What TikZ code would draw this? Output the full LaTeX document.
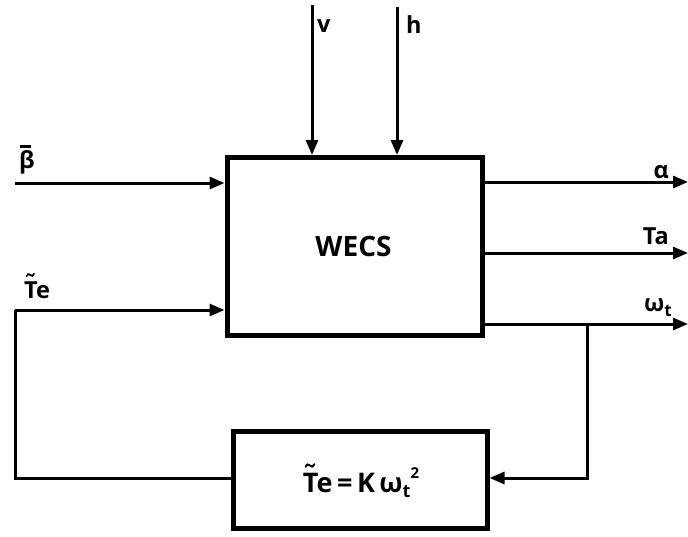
\documentclass[tikz,border=0pt]{standalone}
\usepackage{amsmath}
\usepackage{fontspec}
\setmainfont{Open Sans}
\usetikzlibrary{arrows.meta}
\newcommand{\barbeta}{\leavevmode\rlap{\hspace{0.04em}\raisebox{0.86em}{\rule{0.46em}{0.1em}}}β}
\newcommand{\tildeT}{\leavevmode\rlap{\tikz[overlay,baseline=0pt,x=1em,y=1em]
  \draw[line width=0.075em,line cap=round] (0.1,0.93) .. controls (0.15,1.04) and (0.2,1.04) .. (0.26,0.98)
  .. controls (0.32,0.92) and (0.37,0.92) .. (0.42,1.03);}T}
\begin{document}
\begin{tikzpicture}[x=1pt,y=-1pt,
  sig/.style={line width=3pt,-{Triangle[length=15pt,width=12pt]}},
  wire/.style={line width=3pt},
  lbl/.style={font=\bfseries\fontsize{23.5}{23.5}\selectfont,inner sep=0pt}]
\useasboundingbox (0,0) rectangle (688,536);
% main block
\node[draw,line width=5pt,minimum width=255pt,minimum height=178pt,inner sep=0pt,anchor=north west] (wecs) at (224.5,155) {};
\node[font=\fontsize{28}{28}\selectfont\bfseries,inner sep=0pt] (wecstext) at (353.5,246) {WECS};
% feedback block
\node[draw,line width=4.5pt,minimum width=254pt,minimum height=97pt,inner sep=0pt,anchor=north west] (fb) at (231,429) {};
\node[font=\fontsize{27}{27}\selectfont\bfseries,inner sep=0pt,anchor=base] (fbtext) at (361,492)
  {\tildeT e\,=\,K\,ω\raisebox{-0.22em}{\fontsize{18}{18}\selectfont t}\raisebox{0.5em}{\fontsize{15}{15}\selectfont 2}};
% coordinates
\coordinate (bin) at (15,183);
\coordinate (tin) at (15,310);
\coordinate (fbl) at (15,478);
\coordinate (vin) at (312,5);
\coordinate (hin) at (397,7);
\coordinate (aout) at (688,182);
\coordinate (taout) at (688,253);
\coordinate (wout) at (688,324);
\coordinate (br) at (587,324);
\coordinate (brd) at (587,478);
% inputs
\draw[sig] (bin) -- (bin -| wecs.west);
\draw[sig] (tin) -- (tin -| wecs.west);
\draw[sig] (vin) -- (vin |- wecs.north);
\draw[sig] (hin) -- (hin |- wecs.north);
% outputs
\draw[sig] (aout -| wecs.east) -- (aout);
\draw[sig] (taout -| wecs.east) -- (taout);
\draw[sig] (wout -| wecs.east) -- (wout);
% feedback
\draw[wire] (br) -- (brd) -- ++(1.5,0);
\draw[sig] (brd) -- (brd -| fb.east);
\draw[wire,line join=miter] (fbl -| fb.west) -- (fbl) -- (tin);
% labels
\node[lbl,anchor=base west] (lb) at (19,168) {\barbeta};
\node[lbl,anchor=base west] (lt) at (24,298) {\tildeT e};
\node[lbl,anchor=base west] (lv) at (317,32) {v};
\node[lbl,anchor=base west] (lh) at (406,33) {h};
\node[lbl,anchor=base east] (la) at (669,178) {α};
\node[lbl,anchor=base east] (lta) at (669,244) {Ta};
\node[lbl,anchor=base east] (lw) at (672,311) {ω\raisebox{-0.25em}{\fontsize{17}{17}\selectfont t}};
\end{tikzpicture}
\end{document}
